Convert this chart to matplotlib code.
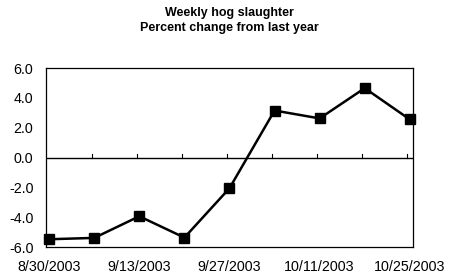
import matplotlib
matplotlib.use("Agg")
import matplotlib.pyplot as plt

dates = ["8/30/2003", "9/6/2003", "9/13/2003", "9/20/2003", "9/27/2003",
         "10/4/2003", "10/11/2003", "10/18/2003", "10/25/2003"]
pct_change = [-5.48, -5.39, -3.94, -5.37, -2.06, 3.15, 2.62, 4.65, 2.55]
y_ticks = [-6.0, -4.0, -2.0, 0.0, 2.0, 4.0, 6.0]

plt.rcParams['font.family'] = ['Liberation Sans', 'DejaVu Sans']

fig = plt.figure(figsize=(4.58, 2.77), dpi=100)
ax = fig.add_axes([0.1004, 0.1083, 0.8013, 0.6462])

x = list(range(len(dates)))
ax.plot(x, pct_change, color='black', linewidth=1.8, marker='s', markersize=6.5,
        markerfacecolor='black', markeredgecolor='black', zorder=3, clip_on=False)

ax.set_xlim(-0.07, len(dates) - 1 + 0.07)
ax.set_ylim(-6, 6)
ax.set_yticks(y_ticks)
ax.set_yticklabels([f"{v:.1f}" for v in y_ticks], fontsize=10.3)
ax.tick_params(axis='y', length=0, pad=9)

ax.axhline(0, color='black', linewidth=1.0, zorder=2)
for xi in x[1:]:
    ax.plot([xi - 0.06, xi - 0.06], [0, 0.25], color='black', linewidth=0.8, zorder=2)

ax.set_xticks(x[::2])
ax.set_xticklabels(dates[::2], fontsize=10.3)
ax.tick_params(axis='x', length=0, pad=9)

for s in ax.spines.values():
    s.set_linewidth(0.9)
    s.set_color('black')

fig.text(0.5, 0.975, "Weekly hog slaughter\nPercent change from last year",
         ha='center', va='top', fontsize=9, fontweight='bold', linespacing=1.35)

fig.savefig("out.png", dpi=100)
